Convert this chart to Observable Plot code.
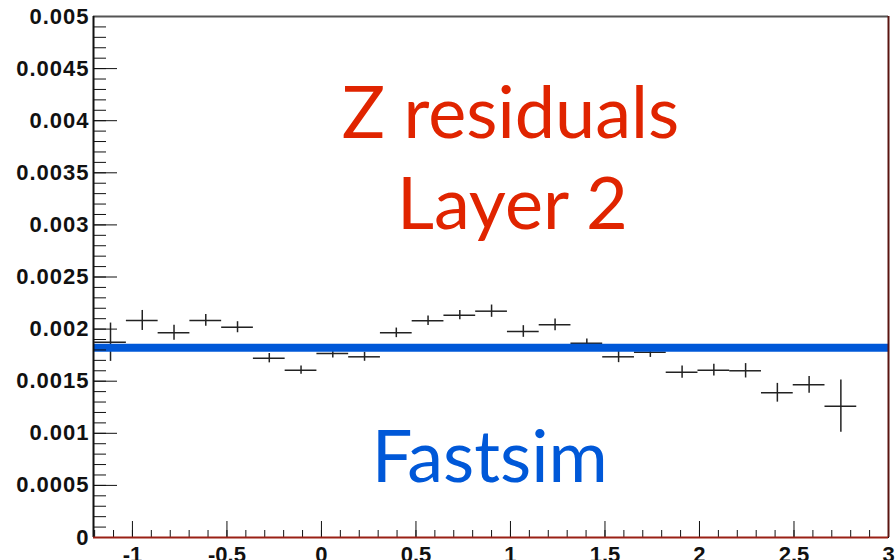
<!DOCTYPE html>
<html><head><meta charset="utf-8">
<script src="https://cdn.jsdelivr.net/npm/d3@7"></script>
<script src="https://cdn.jsdelivr.net/npm/@observablehq/plot@0.6"></script>
<style>
html,body{margin:0;padding:0;background:#fff}
svg{display:block}
g[aria-label="y-axis tick label"] text{letter-spacing:1px}
</style>
</head><body><div id="chart"></div>
<script>
// Bin centres (x)
const binCenters = [-1.116, -0.948, -0.780, -0.612, -0.444, -0.276, -0.108, 0.060,
  0.228, 0.396, 0.564, 0.732, 0.900, 1.068, 1.236, 1.404,
  1.572, 1.740, 1.908, 2.076, 2.244, 2.412, 2.580, 2.748];
// Bin contents
const binValues = [0.001874, 0.002083, 0.001964, 0.002083, 0.002018, 0.001721, 0.001606, 0.001766,
  0.001734, 0.001964, 0.002080, 0.002134, 0.002172, 0.001977, 0.002041, 0.001865,
  0.001734, 0.001779, 0.001587, 0.001606, 0.001600, 0.001389, 0.001465, 0.001260];
// Bin errors
const binErrors = [0.000184, 0.000096, 0.000072, 0.000056, 0.000053, 0.000045, 0.000040, 0.000043,
  0.000043, 0.000046, 0.000045, 0.000045, 0.000059, 0.000056, 0.000056, 0.000040,
  0.000056, 0.000051, 0.000059, 0.000056, 0.000069, 0.000090, 0.000080, 0.000251];
const binHalfWidth = 0.084;
const fastsimLevel = 0.00182;

const yMajorTicks = [0, 0.0005, 0.001, 0.0015, 0.002, 0.0025, 0.003, 0.0035, 0.004, 0.0045, 0.005];
const yTickLabels = ["0", "0.0005", "0.001", "0.0015", "0.002", "0.0025", "0.003", "0.0035", "0.004", "0.0045", "0.005"];
const xMajorTicks = [-1, -0.5, 0, 0.5, 1, 1.5, 2, 2.5, 3];
const xTickLabels = ["-1", "-0.5", "0", "0.5", "1", "1.5", "2", "2.5", "3"];

const xDomain = [-1.206, 3];
const yDomain = [0, 0.005];

const bins = binCenters.map((x, i) => ({x, v: binValues[i], e: binErrors[i]}));
const yMinor = d3.ticks(0, 0.005, 50);
const xMinor = d3.ticks(-1.2, 3, 42).filter(d => d >= xDomain[0]);

const blue = "#0058d8";
const red = "#e02400";
const tickFont = {fontFamily: "'Liberation Sans', Arial, sans-serif", fontSize: 22, fontWeight: "bold"};

const chart = Plot.plot({
  width: 895,
  height: 560,
  marginLeft: 93,
  marginRight: 7,
  marginTop: 16,
  marginBottom: 23,
  style: {background: "#fff", color: "#111", overflow: "visible"},
  x: {domain: xDomain},
  y: {domain: yDomain},
  marks: [
    // error bars
    Plot.ruleY(bins, {y: "v", x1: d => d.x - binHalfWidth, x2: d => d.x + binHalfWidth, stroke: "#222", strokeWidth: 1.5}),
    Plot.ruleX(bins, {x: "x", y1: d => d.v - d.e, y2: d => d.v + d.e, stroke: "#222", strokeWidth: 1.5}),
    // fastsim level
    Plot.ruleY([fastsimLevel], {stroke: blue, strokeWidth: 8}),
    // inward ticks
    Plot.axisY(yMinor, {anchor: "right", frameAnchor: "left", tickSize: 12, fill: "none", label: null, stroke: "#111"}),
    Plot.axisY(yMajorTicks, {anchor: "right", frameAnchor: "left", tickSize: 23, fill: "none", label: null, stroke: "#111"}),
    Plot.axisX(xMinor, {anchor: "top", frameAnchor: "bottom", tickSize: 8, fill: "none", label: null, stroke: "#111"}),
    Plot.axisX(xMajorTicks, {anchor: "top", frameAnchor: "bottom", tickSize: 17, fill: "none", label: null, stroke: "#111"}),
    // tick labels
    Plot.axisY(yMajorTicks, {anchor: "left", tickSize: 0, tickPadding: 4, label: null,
      tickFormat: d => yTickLabels[yMajorTicks.indexOf(d)], ...tickFont, fill: "#111"}),
    Plot.axisX(xMajorTicks, {anchor: "bottom", tickSize: 0, tickPadding: 9, label: null,
      tickFormat: d => xTickLabels[xMajorTicks.indexOf(d)], ...tickFont, fill: "#111"}),
    // frame
    Plot.ruleY([yDomain[1]], {stroke: "#555", strokeWidth: 2}),
    Plot.ruleX([xDomain[1]], {stroke: "#5a1410", strokeWidth: 2}),
    Plot.ruleX([xDomain[0]], {stroke: "#111", strokeWidth: 2}),
    Plot.ruleY([0], {stroke: "#9a2015", strokeWidth: 2}),
    // annotations
    Plot.text(["Z residuals"], {x: 1.0, y: 0.003836, text: d => d, fill: red, fontSize: 72, fontFamily: "Lato, sans-serif", lineAnchor: "bottom", textAnchor: "middle"}),
    Plot.text(["Layer 2"], {x: 1.01, y: 0.002963, text: d => d, fill: red, fontSize: 72, fontFamily: "Lato, sans-serif", lineAnchor: "bottom", textAnchor: "middle"}),
    Plot.text(["Fastsim"], {x: 0.89, y: 0.000537, text: d => d, fill: blue, fontSize: 72, fontFamily: "Lato, sans-serif", lineAnchor: "bottom", textAnchor: "middle"})
  ]
});
document.getElementById("chart").appendChild(chart);
</script>
</body></html>
